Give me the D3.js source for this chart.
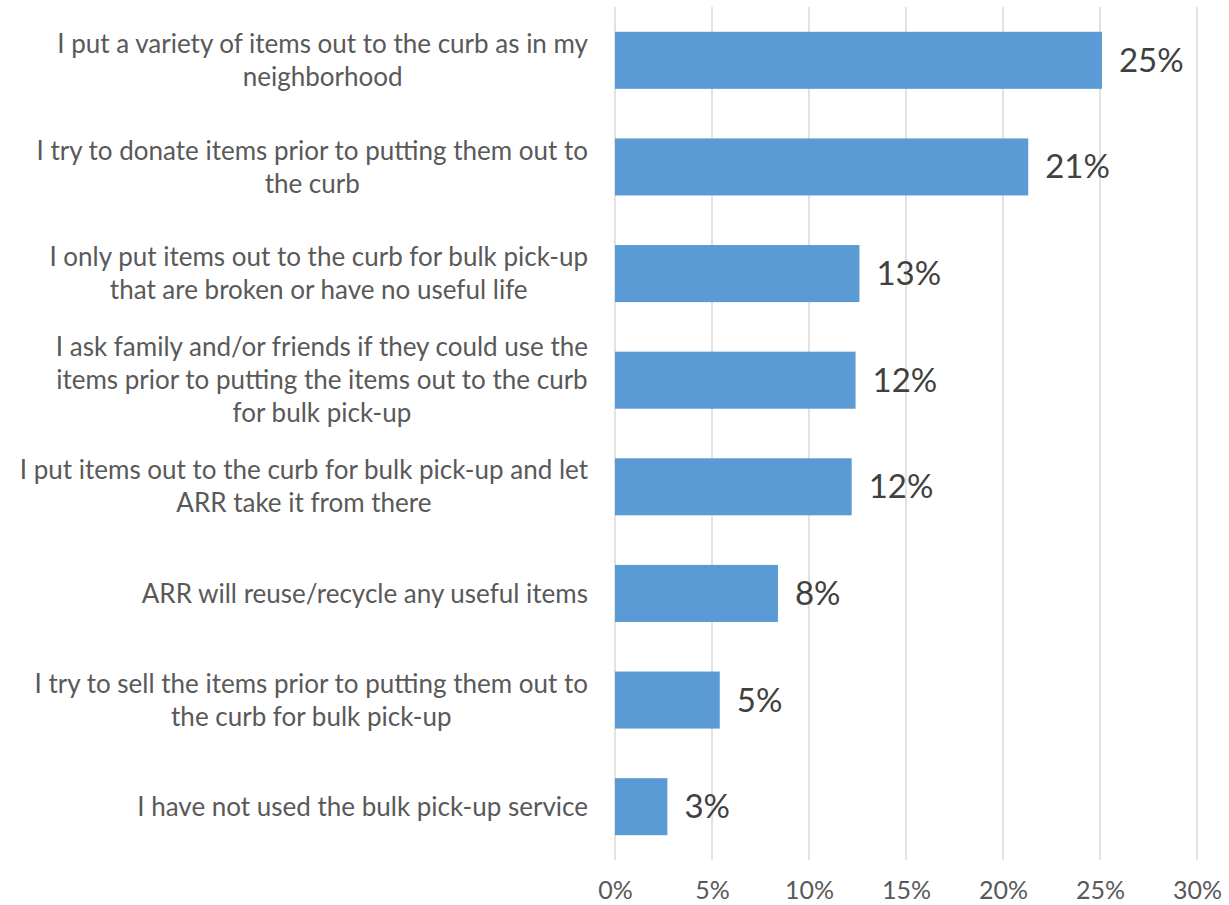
<!DOCTYPE html>
<html>
<head>
<meta charset="utf-8">
<script src="https://cdn.jsdelivr.net/npm/d3@7"></script>
<style>
  html, body { margin: 0; padding: 0; background: #fff; }
  svg text { font-family: Lato, "Open Sans", sans-serif; }
</style>
</head>
<body>
<svg id="chart" width="1229" height="905"></svg>
<script>
// Survey responses (share of respondents), top to bottom
const categories = [
  ["I put a variety of items out to the curb as in my", "neighborhood"],
  ["I try to donate items prior to putting them out to", "the curb"],
  ["I only put items out to the curb for bulk pick-up", "that are broken or have no useful life"],
  ["I ask family and/or friends if they could use the", "items prior to putting the items out to the curb", "for bulk pick-up"],
  ["I put items out to the curb for bulk pick-up and let", "ARR take it from there"],
  ["ARR will reuse/recycle any useful items"],
  ["I try to sell the items prior to putting them out to", "the curb for bulk pick-up"],
  ["I have not used the bulk pick-up service"]
];
const values = [25.1, 21.3, 12.6, 12.4, 12.2, 8.4, 5.4, 2.7];
const xTicks = [0, 5, 10, 15, 20, 25, 30];

const svg = d3.select("#chart");
const margin = { top: 7, right: 32, bottom: 45, left: 615 };
const width = 1229 - margin.left - margin.right;
const height = 905 - margin.top - margin.bottom;

const g = svg.append("g").attr("transform", `translate(${margin.left},${margin.top})`);

const x = d3.scaleLinear().domain([0, 30]).range([0, width]);
const y = d3.scaleBand().domain(d3.range(categories.length)).range([0, height]).paddingInner(0.465).paddingOuter(0.2325);

// Vertical gridlines
g.selectAll("line.grid")
  .data(xTicks)
  .join("line")
  .attr("class", "grid")
  .attr("x1", d => x(d)).attr("x2", d => x(d))
  .attr("y1", 0).attr("y2", height)
  .attr("stroke", "#d9d9d9")
  .attr("stroke-width", 1.5);

// Bottom axis labels
const xAxis = d3.axisBottom(x).tickValues(xTicks).tickFormat(d => d + "%").tickSize(0).tickPadding(21);
const ax = g.append("g").attr("transform", `translate(0,${height})`).call(xAxis);
ax.select(".domain").remove();
ax.selectAll("text").attr("font-size", 25).attr("fill", "#595959").style("font-family", "Lato, 'Open Sans', sans-serif");

// Bars
g.selectAll("rect.bar")
  .data(values)
  .join("rect")
  .attr("class", "bar")
  .attr("x", 0)
  .attr("y", (d, i) => y(i))
  .attr("width", d => x(d))
  .attr("height", y.bandwidth())
  .attr("fill", "#5b9bd5");

// Value labels
g.selectAll("text.val")
  .data(values)
  .join("text")
  .attr("class", "val")
  .attr("x", d => x(d) + 17)
  .attr("y", (d, i) => y(i) + y.bandwidth() / 2)
  .attr("dy", "0.35em")
  .attr("font-size", 33)
  .attr("fill", "#404040")
  .text(d => Math.round(d) + "%");

// Category labels: multi-line, centered within a block right-aligned to the axis
const labelRight = margin.left - 27;
const lineH = 33;
categories.forEach((lines, i) => {
  const cy = margin.top + y(i) + y.bandwidth() / 2;
  const t = svg.append("text")
    .attr("font-size", 26)
    .attr("fill", "#595959")
    .attr("text-anchor", "middle");
  const spans = lines.map((ln, k) => t.append("tspan")
    .attr("y", cy + (k - (lines.length - 1) / 2) * lineH)
    .attr("dy", "0.35em")
    .text(ln));
  const maxW = d3.max(spans, s => s.node().getComputedTextLength());
  spans.forEach(s => s.attr("x", labelRight - maxW / 2));
});
</script>
</body>
</html>
